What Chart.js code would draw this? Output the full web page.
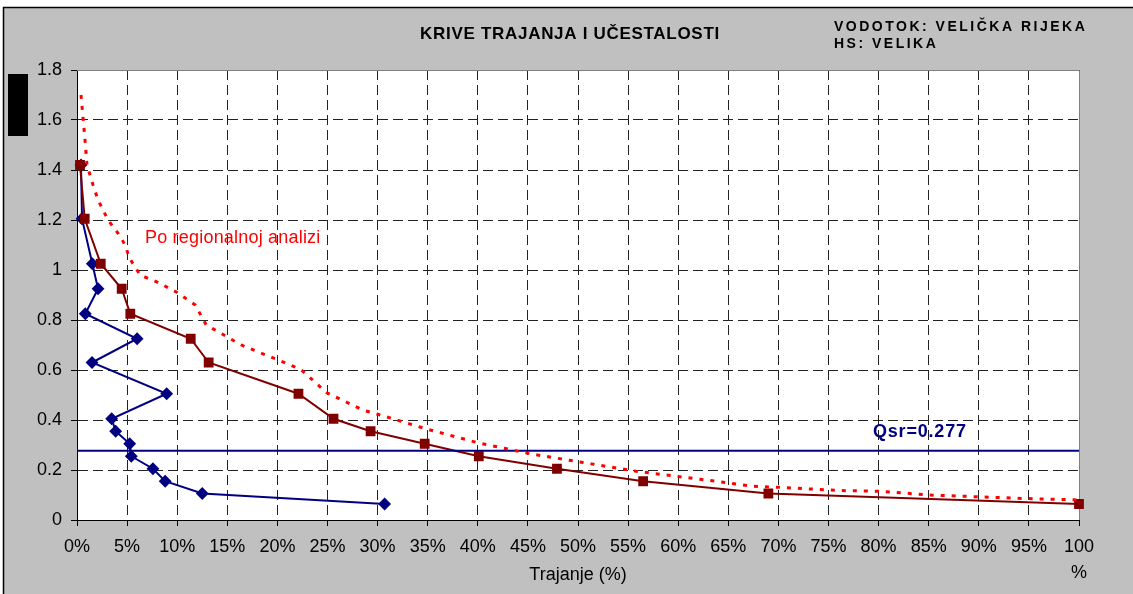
<!DOCTYPE html>
<html>
<head>
<meta charset="utf-8">
<script src="https://cdn.jsdelivr.net/npm/chart.js@4"></script>
<style>
  html, body { margin: 0; padding: 0; background: #fff; }
  #wrap { width: 1133px; height: 594px; }
</style>
</head>
<body>
<div id="wrap"><canvas id="chartKrive" width="1133" height="594"></canvas></div>
<script>
// protoci (m3/s) - zajednicki za obje krive
const protoci = [1.42, 1.205, 1.025, 0.925, 0.825, 0.725, 0.63, 0.505, 0.405, 0.355, 0.305, 0.255, 0.205, 0.155, 0.106, 0.064];
// kriva trajanja (%)
const trajanje = [0.3, 0.77, 2.37, 4.46, 5.32, 11.35, 13.14, 22.1, 25.6, 29.3, 34.7, 40.1, 47.9, 56.5, 69.0, 100];
// kriva ucestalosti (%)
const ucestalost = [0.4, 0.5, 1.53, 2.1, 0.83, 6.0, 1.5, 8.95, 3.46, 3.86, 5.26, 5.42, 7.58, 8.8, 12.5, 30.7];
// po regionalnoj analizi
const regTrajanje = [0.4, 0.6, 0.8, 1.0, 1.6, 2.1, 2.6, 3.1, 4.4, 4.9, 5.2, 6.3, 8.1, 10.0, 11.8, 12.9, 16.4, 21.3, 22.4, 24.9, 28.5, 30.7, 34.8, 39.9, 45.2, 50.5, 55.8, 62.2, 67.5, 70.5, 76.0, 80.1, 85.1, 89.8, 93.8, 100];
const regProtok = [1.70, 1.61, 1.52, 1.42, 1.34, 1.28, 1.24, 1.20, 1.13, 1.09, 1.05, 0.98, 0.95, 0.91, 0.86, 0.78, 0.70, 0.62, 0.60, 0.51, 0.44, 0.415, 0.365, 0.31, 0.265, 0.23, 0.195, 0.163, 0.135, 0.13, 0.118, 0.115, 0.10, 0.093, 0.087, 0.08];
const qsr = 0.277;
const xOpseg = [0, 100];

const tacke = (xs, ys) => xs.map((x, i) => ({ x: x, y: ys[i] }));

Chart.defaults.font.family = '"Liberation Sans", Arial, sans-serif';
Chart.defaults.color = '#000';

const pozadina = {
  id: 'pozadina',
  beforeDraw(chart) {
    const { ctx, chartArea: a, width, height } = chart;
    ctx.save();
    ctx.fillStyle = '#fff';
    ctx.fillRect(0, 0, width, height);
    ctx.fillStyle = '#c0c0c0';
    ctx.fillRect(3, 7, width - 3, height - 7);
    ctx.strokeStyle = '#000';
    ctx.lineWidth = 1.5;
    ctx.beginPath();
    ctx.moveTo(3.5, height);
    ctx.lineTo(3.5, 7.5);
    ctx.lineTo(width, 7.5);
    ctx.stroke();
    ctx.fillStyle = '#fff';
    ctx.fillRect(a.left, a.top, a.right - a.left, a.bottom - a.top);
    ctx.fillStyle = '#000';
    ctx.fillRect(8, 74, 20, 62);
    ctx.restore();
  },
  beforeDatasetsDraw(chart) {
    const { ctx, chartArea: a } = chart;
    ctx.save();
    ctx.strokeStyle = '#808080';
    ctx.lineWidth = 1;
    ctx.beginPath();
    ctx.moveTo(a.left, a.top + 0.5);
    ctx.lineTo(a.right + 0.5, a.top + 0.5);
    ctx.lineTo(a.right + 0.5, a.bottom);
    ctx.stroke();
    ctx.restore();
  },
  afterDraw(chart) {
    const { ctx, scales } = chart;
    ctx.save();
    ctx.textBaseline = 'middle';

    ctx.fillStyle = '#000';
    ctx.textAlign = 'center';
    ctx.font = 'bold 17px "Liberation Sans", Arial, sans-serif';
    ctx.letterSpacing = '0.7px';
    ctx.fillText('KRIVE TRAJANJA I UČESTALOSTI', 570, 34);

    ctx.textAlign = 'left';
    ctx.font = 'bold 14px "Liberation Sans", Arial, sans-serif';
    ctx.letterSpacing = '2.5px';
    ctx.fillText('VODOTOK: VELIČKA RIJEKA', 834, 27);
    ctx.fillText('HS: VELIKA', 834, 44);

    ctx.letterSpacing = '0.2px';
    ctx.fillStyle = '#ff0000';
    ctx.font = '18px "Liberation Sans", Arial, sans-serif';
    ctx.fillText('Po regionalnoj analizi', 145, 238);

    ctx.fillStyle = '#000080';
    ctx.letterSpacing = '0.8px';
    ctx.font = 'bold 18px "Liberation Sans", Arial, sans-serif';
    ctx.fillText('Qsr=0.277', 873, scales.y.getPixelForValue(qsr) - 19);
    ctx.restore();
  }
};

const gridOpts = {
  color: '#222',
  lineWidth: 1,
  tickLength: 6,
  tickColor: '#000',
  tickBorderDash: []
};
const borderOpts = { display: true, color: '#000', width: 1, dash: [10, 5] };

new Chart(document.getElementById('chartKrive').getContext('2d'), {
  type: 'line',
  data: {
    datasets: [
      {
        label: 'Po regionalnoj analizi',
        data: tacke(regTrajanje, regProtok),
        borderColor: '#ff0000',
        borderWidth: 3,
        borderDash: [4, 7],
        pointRadius: 0,
        fill: false
      },
      {
        label: 'Qsr',
        data: tacke(xOpseg, [qsr, qsr]),
        borderColor: '#000080',
        borderWidth: 2,
        pointRadius: 0
      },
      {
        label: 'Kriva trajanja',
        data: tacke(trajanje, protoci),
        borderColor: '#800000',
        backgroundColor: '#800000',
        borderWidth: 2,
        pointStyle: 'rect',
        pointRadius: 5.5,
        clip: false
      },
      {
        label: 'Kriva ucestalosti',
        data: tacke(ucestalost, protoci),
        borderColor: '#000080',
        backgroundColor: '#000080',
        borderWidth: 2,
        pointStyle: 'rectRot',
        pointRadius: 5,
        clip: false
      }
    ]
  },
  options: {
    responsive: false,
    animation: false,
    layout: { padding: { left: 27, top: 70, right: 54, bottom: 0 } },
    plugins: {
      legend: { display: false },
      tooltip: { enabled: false }
    },
    scales: {
      x: {
        type: 'linear',
        min: 0,
        max: 100,
        grid: gridOpts,
        border: borderOpts,
        ticks: {
          stepSize: 5,
          autoSkip: false,
          maxRotation: 0,
          padding: 8,
          color: '#000',
          font: { size: 18, lineHeight: 1.45 },
          callback: v => v === 100 ? ['100', '%'] : v + '%'
        },
        title: {
          display: true,
          text: 'Trajanje (%)',
          color: '#000',
          font: { size: 18 },
          padding: { top: 0, bottom: 8 }
        },
        afterFit(s) { s.height = 74; }
      },
      y: {
        min: 0,
        max: 1.8,
        grid: gridOpts,
        border: borderOpts,
        ticks: {
          stepSize: 0.2,
          padding: 9,
          color: '#000',
          font: { size: 18 },
          callback: v => String(Math.round(v * 10) / 10)
        },
        afterFit(s) { s.width = 50; }
      }
    }
  },
  plugins: [pozadina]
});
</script>
</body>
</html>
